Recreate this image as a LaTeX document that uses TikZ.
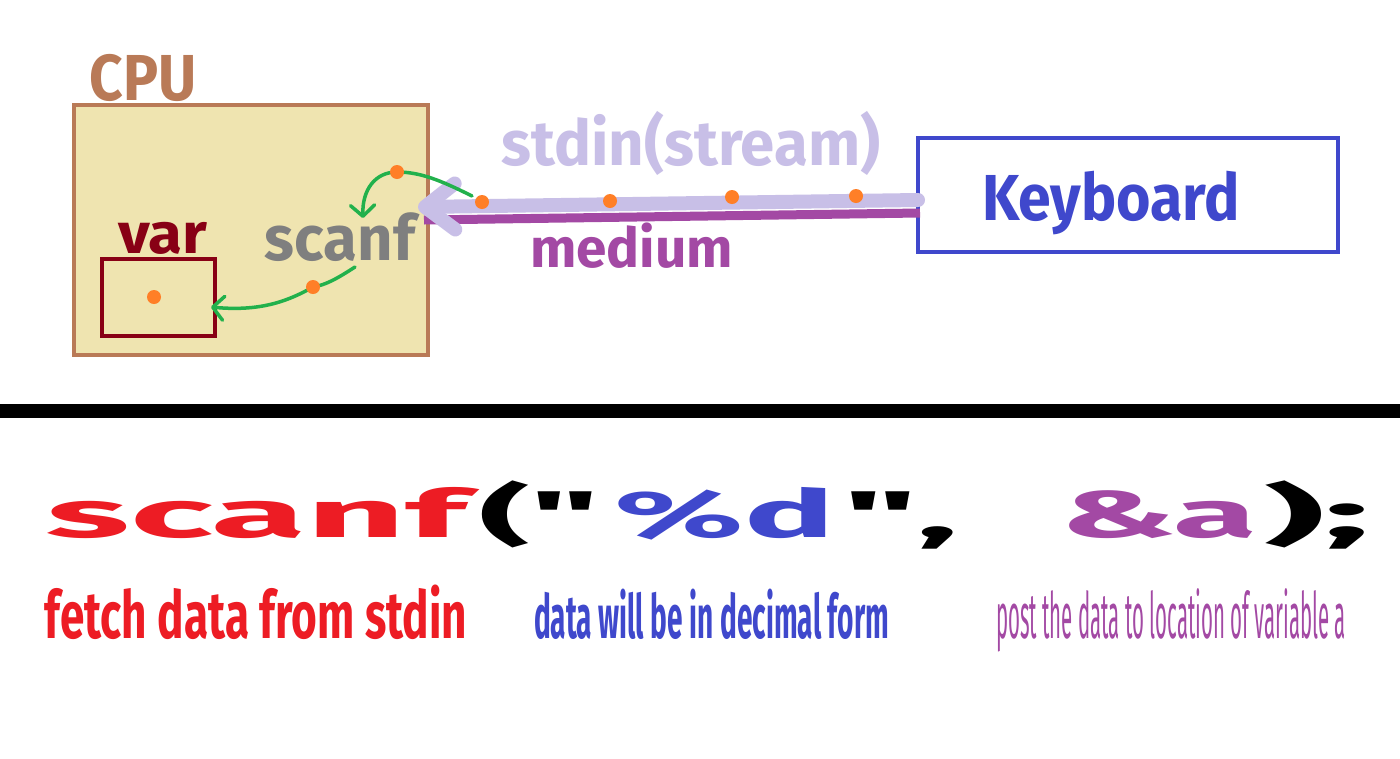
\documentclass[tikz,border=0pt]{standalone}
\usepackage{fontspec}
\setmainfont{Fira Sans}
\usetikzlibrary{arrows.meta}
\definecolor{cpuedge}{RGB}{185,122,87}
\definecolor{cpufill}{RGB}{239,228,176}
\definecolor{varc}{RGB}{136,0,21}
\definecolor{scanc}{RGB}{127,127,127}
\definecolor{dotc}{RGB}{255,127,39}
\definecolor{flowc}{RGB}{34,177,76}
\definecolor{streamc}{RGB}{200,191,231}
\definecolor{medc}{RGB}{163,73,164}
\definecolor{kbdc}{RGB}{63,72,204}
\definecolor{codered}{RGB}{237,28,36}
\newcommand{\fitw}[2]{\resizebox{#1}{\height}{#2}}
\newcommand{\fsz}[1]{\fontsize{#1}{#1}\selectfont\bfseries}
\newcommand{\fszn}[1]{\fontsize{#1}{#1}\selectfont}
\begin{document}
\begin{tikzpicture}[x=1pt,y=-1pt,
		lbl/.style={inner sep=0pt,anchor=base},
		box/.style={draw,line width=4pt,inner sep=0pt},
		blob/.style={fill=dotc},
		flow/.style={draw=flowc,line width=3.5pt,line cap=round,-{Straight Barb[length=11pt,width=24pt,round]}},
		stream/.style={draw=streamc,line width=14pt,line cap=round,-{Straight Barb[length=30pt,width=46pt,round]}},
		medline/.style={draw=medc,line width=9pt}]
		\fill[white] (0,0) rectangle (1400,758);
		\useasboundingbox (0,0) rectangle (1400,758);
		\node[box,draw=cpuedge,fill=cpufill,minimum width=354pt,minimum height=250pt] (cpu) at (251,230) {};
		\node[box,draw=varc,minimum width=113pt,minimum height=77pt] (var) at (158.5,297.5) {};
		\node[box,draw=kbdc,minimum width=420pt,minimum height=114pt] (kbd) at (1128,195) {};
		\node[lbl,text=cpuedge,font=\fsz{65}] (cpulbl) at (143.5,100) {\fitw{107pt}{CPU}};
		\node[lbl,text=varc,font=\fsz{57}] (varlbl) at (162.5,253) {\fitw{89pt}{var}};
		\node[lbl,text=scanc,font=\fsz{63}] (scanlbl) at (340,260) {\fitw{150pt}{scanf}};
		\node[lbl,text=streamc,font=\fsz{63}] (streamlbl) at (691,165) {\fitw{379pt}{stdin(stream)}};
		\node[lbl,text=medc,font=\fsz{55}] (medlbl) at (631.5,267) {\fitw{203pt}{medium}};
		\node[lbl,text=kbdc,font=\fsz{65}] (kbdlbl) at (1111,220) {\fitw{258pt}{Keyboard}};
		\coordinate (d1) at (397,172);
		\coordinate (d2) at (482,202);
		\coordinate (d3) at (610,201);
		\coordinate (d4) at (732,197);
		\coordinate (d5) at (856,196);
		\coordinate (d6) at (313,287);
		\coordinate (d7) at (154,297);
		\coordinate (g1) at (472,196);
		\coordinate (g2) at (363,218);
		\coordinate (g3) at (355,267);
		\coordinate (g4) at (211,307);
		\draw[medline] ([xshift=4pt,yshift=-18pt]kbd.west) -- ([xshift=-6pt,yshift=10pt]cpu.east);
		\draw[stream] ([xshift=2pt,yshift=-5pt]kbd.west) -- ([xshift=-12pt,yshift=23pt]cpu.east);
		\draw[flow] (g1) .. controls (440,180) and (420,172) .. (d1) .. controls (375,172) and (362,190) .. (g2);
		\draw[flow] (g3) .. controls (335,280) and (325,285) .. (d6) .. controls (290,300) and (262,312) .. (g4);
		\foreach \n in {d1,d2,d3,d4,d5,d6,d7}
		{
			\fill[blob] (\n) circle (7);
		}
		\draw[line width=14pt] (0,411) -- (1400,411);
		\node[lbl,text=codered,font=\fsz{66}] (c1) at (257,537) {\fitw{420pt}{scanf}};
		\node[lbl,font=\fsz{66}] (c2) at (539,537) {\fitw{120pt}{(\textquotedbl}};
		\node[lbl,text=kbdc,font=\fsz{66}] (c3) at (725,537) {\fitw{220pt}{\%d}};
		\node[lbl,font=\fsz{66}] (c4) at (900.5,537) {\fitw{115pt}{\textquotedbl,}};
		\node[lbl,text=medc,font=\fsz{66}] (c5) at (1158.5,537) {\fitw{197pt}{\&a}};
		\node[lbl,font=\fsz{66}] (c6) at (1316.5,537) {\fitw{107pt}{);}};
		\node[lbl,text=codered,font=\fsz{66}] (fetch) at (256,638) {\fitw{422pt}{fetch data from stdin}};
		\node[lbl,text=kbdc,font=\fsz{61}] (fmt) at (711.5,638) {\fitw{355pt}{data will be in decimal form}};
		\node[lbl,text=medc,font=\fszn{64}] (post) at (1171,638) {\fitw{350pt}{post the data to location of variable a}};
\end{tikzpicture}
\end{document}
